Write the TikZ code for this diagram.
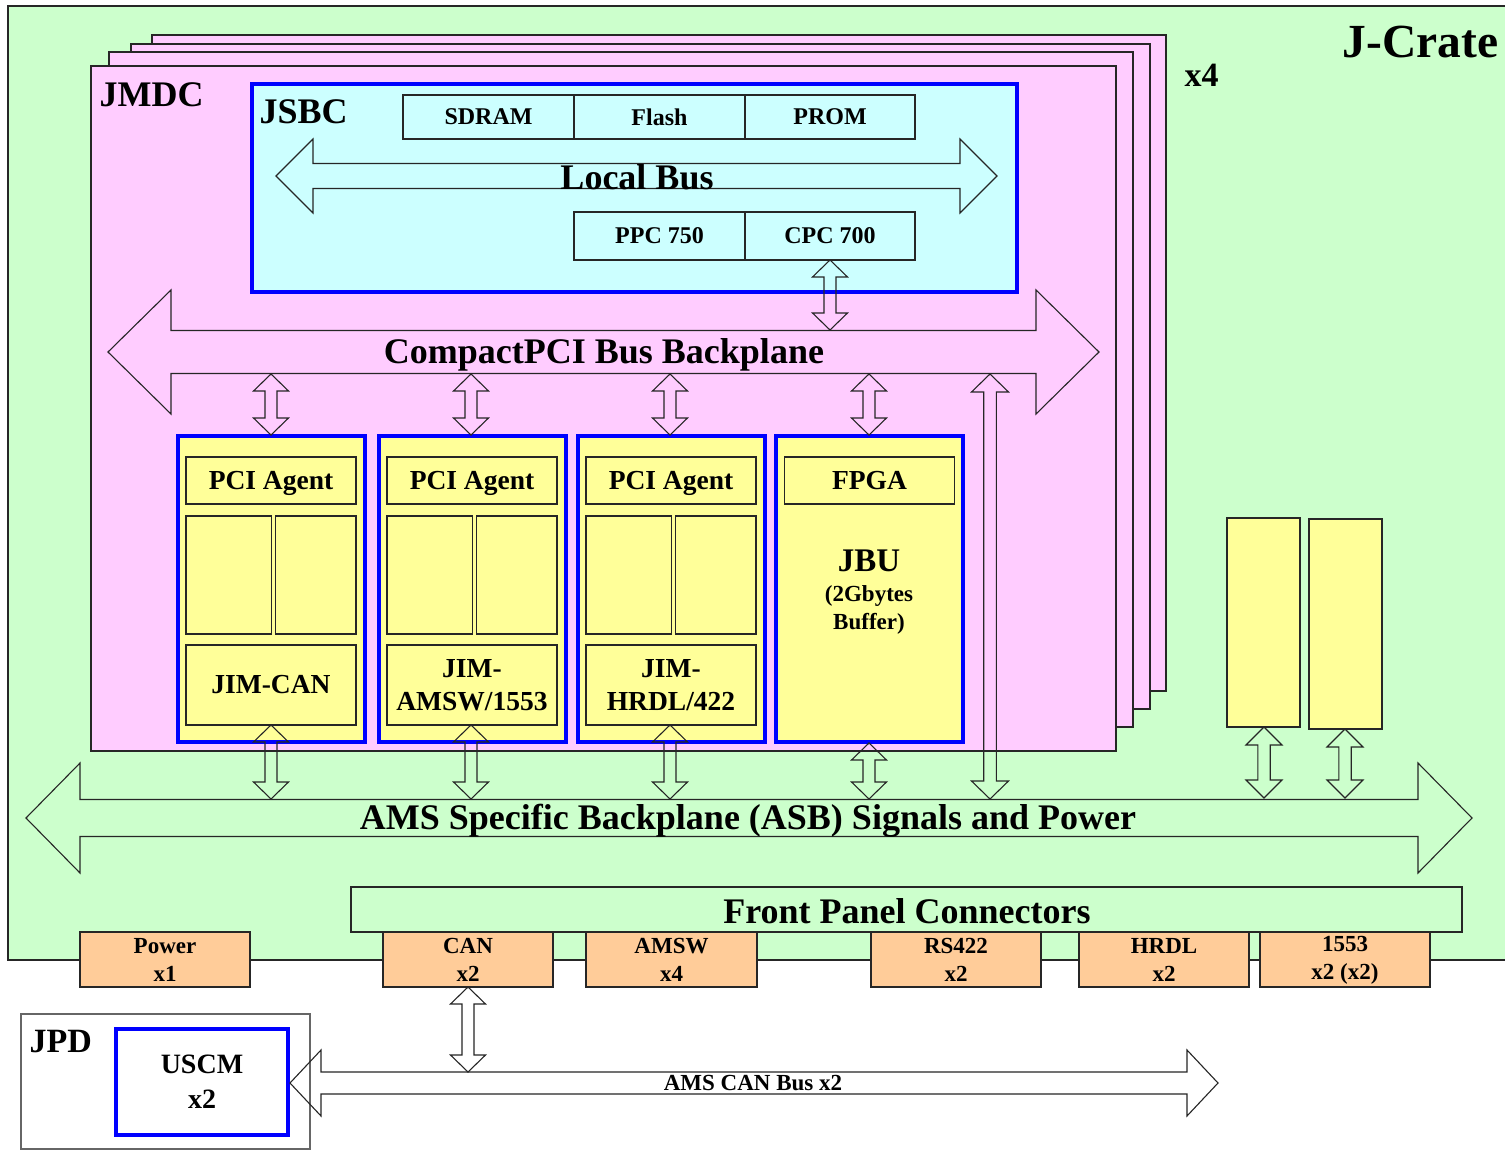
\documentclass[tikz,border=0pt]{standalone}
\usepackage{fontspec}
\setmainfont{Liberation Serif}
\definecolor{crategreen}{HTML}{CCFFCC}
\definecolor{boardpink}{HTML}{FFCCFF}
\definecolor{sbccyan}{HTML}{CCFFFF}
\definecolor{modyellow}{HTML}{FFFF99}
\definecolor{conorange}{HTML}{FFCC99}
\newcommand{\bx}[7][]{\node[bxbase,#1,minimum width={(#5)-(#3)},minimum height={(#6)-(#4)}] (#2) at ({((#3)+(#5))/2},{((#4)+(#6))/2}) {#7};}
% vertical double block arrow: xc, ytop, ybot, head half width, head length, shaft half width
\newcommand{\vdarrow}[6]{\draw[blockarrow] (#1,#2) -- ({#1+#4},{#2+#5}) -- ({#1+#6},{#2+#5}) -- ({#1+#6},{#3-#5}) -- ({#1+#4},{#3-#5}) -- (#1,#3) -- ({#1-#4},{#3-#5}) -- ({#1-#6},{#3-#5}) -- ({#1-#6},{#2+#5}) -- ({#1-#4},{#2+#5}) -- cycle;}
% horizontal double block arrow: xl, xr, yc, head half height, head length, shaft half height
\newcommand{\hdarrow}[6]{\draw[blockarrow] (#1,#3) -- ({#1+#5},{#3-#4}) -- ({#1+#5},{#3-#6}) -- ({#2-#5},{#3-#6}) -- ({#2-#5},{#3-#4}) -- (#2,#3) -- ({#2-#5},{#3+#4}) -- ({#2-#5},{#3+#6}) -- ({#1+#5},{#3+#6}) -- ({#1+#5},{#3+#4}) -- cycle;}
\begin{document}
\begin{tikzpicture}[x=1pt,y=-1pt,line join=miter,
  bxbase/.style={rectangle,inner sep=0pt,outer sep=0pt,align=center},
  outl/.style={draw=black!85,line width=1.1pt},
  plain/.style={bxbase,outl},
  bluebox/.style={bxbase,draw=blue,line width=4pt},
  blockarrow/.style={draw=black!85,line width=1.1pt},
  hugefont/.style={font=\bfseries\fontsize{47.5}{52}\selectfont},
  bigfont/.style={font=\bfseries\fontsize{36}{40}\selectfont},
  xfour/.style={font=\bfseries\fontsize{34}{36}\selectfont},
  jbufont/.style={font=\bfseries\fontsize{33}{36}\selectfont},
  midfont/.style={font=\bfseries\fontsize{27.5}{33}\selectfont},
  uscmfont/.style={font=\bfseries\fontsize{28}{35}\selectfont},
  smallfont/.style={font=\bfseries\fontsize{23}{28}\selectfont},
  memfont/.style={font=\bfseries\fontsize{24}{27}\selectfont}]
\useasboundingbox (0,0) rectangle (1505,1153);
\fill[white] (0,0) rectangle (1505,1153);
% crate
\bx[plain,fill=crategreen]{crate}{8}{6}{1520}{960}{}
\node[hugefont,anchor=east] (cratelabel) at (1502,42) {J-Crate};
\node[xfour,anchor=west] (xfourlabel) at (1181,75) {x4};
% JMDC boards stack
\bx[plain,fill=boardpink]{jmdcd}{152}{35}{1166}{691}{}
\bx[plain,fill=boardpink]{jmdcc}{131}{44}{1150}{709}{}
\bx[plain,fill=boardpink]{jmdcb}{109}{52}{1133}{727}{}
\bx[plain,fill=boardpink]{jmdc}{91}{66}{1116}{751}{}
\node[bigfont,anchor=west] (jmdclabel) at (96,95) {JMDC};
% JSBC
\bx[bluebox,fill=sbccyan]{jsbc}{252}{84}{1017}{292}{}
\node[bigfont,anchor=west] (jsbclabel) at (256,112) {JSBC};
\bx[plain,fill=sbccyan,memfont]{sdram}{403}{95}{574}{139}{SDRAM}
\bx[plain,fill=sbccyan,memfont]{flash}{574}{95}{745}{139}{Flash}
\bx[plain,fill=sbccyan,memfont]{prom}{745}{95}{915}{139}{PROM}
\bx[plain,fill=sbccyan,memfont]{ppc}{574}{212}{745}{260}{PPC 750}
\bx[plain,fill=sbccyan,memfont]{cpc}{745}{212}{915}{260}{CPC 700}
\hdarrow{276}{997}{176}{37}{37}{12.5}
\node[bigfont] (localbus) at (637,177) {Local Bus};
\vdarrow{830}{260}{330}{17.5}{17}{6}
% CompactPCI backplane
\hdarrow{108}{1099}{352}{62}{63}{21.5}
\node[bigfont] (cpcibus) at (604,355) {CompactPCI Bus Backplane};
% PCI boards
\foreach \i/\bl/\lab in {1/177.5/{JIM-CAN},2/378.5/{JIM-\\AMSW/1553},3/577.5/{JIM-\\HRDL/422}}{
  \bx[bluebox,fill=modyellow]{board\i}{\bl}{436}{\bl+187}{742}{}
  \bx[plain,fill=modyellow,midfont]{pci\i}{\bl+8.5}{457}{\bl+178.5}{504}{}
  \node[midfont] (pcitext\i) at ({\bl+93.5},483) {PCI Agent};
  \bx[plain,fill=modyellow]{sla\i}{\bl+8.5}{516}{\bl+94}{634}{}
  \bx[plain,fill=modyellow]{slb\i}{\bl+98}{516}{\bl+178.5}{634}{}
  \bx[plain,fill=modyellow,midfont]{jim\i}{\bl+8.5}{645}{\bl+178.5}{725}{\lab}
}
\bx[bluebox,fill=modyellow]{board4}{776}{436}{963}{742}{}
\bx[plain,fill=modyellow,midfont]{fpga}{784.5}{457}{954.5}{504}{FPGA}
\node[jbufont] (jbu) at (869,561) {JBU};
\node[smallfont,align=center] (jbutext) at (869,610) {(2Gbytes\\Buffer)};
% arrows between CompactPCI and boards
\foreach \x in {271,471,670,869}{\vdarrow{\x}{374}{435}{17.5}{17}{6}}
% arrows from boards to ASB
\foreach \x in {271,471,670}{\vdarrow{\x}{725}{799}{17.5}{17}{6}}
\vdarrow{869}{743}{799}{17.5}{17}{6}
\vdarrow{990}{374}{799}{18.5}{18}{6.3}
% right side modules
\bx[plain,fill=modyellow]{rmoda}{1227}{518}{1300}{727}{}
\bx[plain,fill=modyellow]{rmodb}{1309}{519}{1382}{729}{}
\vdarrow{1264}{727}{798}{18}{18}{6.2}
\vdarrow{1345}{729}{798}{18}{18}{6.2}
% ASB
\hdarrow{26}{1472}{818}{55}{54}{18.5}
\node[bigfont] (asb) at (748,821) {AMS Specific Backplane (ASB) Signals and Power};
% front panel
\bx[plain,fill=crategreen,bigfont]{fpc}{351}{887}{1462}{932}{}
\node[bigfont] (fpctext) at (907,911) {Front Panel Connectors};
\bx[plain,fill=conorange,smallfont]{power}{80}{932}{250}{987}{Power\\x1}
\bx[plain,fill=conorange,smallfont]{can}{383}{932}{553}{987}{CAN\\x2}
\bx[plain,fill=conorange,smallfont]{amsw}{586}{932}{757}{987}{AMSW\\x4}
\bx[plain,fill=conorange,smallfont]{rs}{871}{932}{1041}{987}{RS422\\x2}
\bx[plain,fill=conorange,smallfont]{hrdl}{1079}{932}{1249}{987}{HRDL\\x2}
\bx[plain,fill=conorange]{mil}{1260}{932}{1430}{987}{}
\node[smallfont,align=center] (miltext) at (1345,960) {1553\\x2 (x2)};
% JPD
\bx[bxbase,draw=black!60,line width=1.1pt,fill=white]{jpd}{21}{1014}{310}{1149}{}
\node[font=\bfseries\fontsize{34}{38}\selectfont,anchor=west] (jpdlabel) at (26,1042) {JPD};
\bx[bluebox,fill=white,uscmfont]{uscm}{116}{1029}{288}{1135}{USCM\\x2}
\hdarrow{290}{1218}{1083}{33}{31}{11}
\node[smallfont] (canbus) at (753,1083) {AMS CAN Bus x2};
\vdarrow{468}{987}{1072}{17.5}{17}{6}
\end{tikzpicture}
\end{document}
